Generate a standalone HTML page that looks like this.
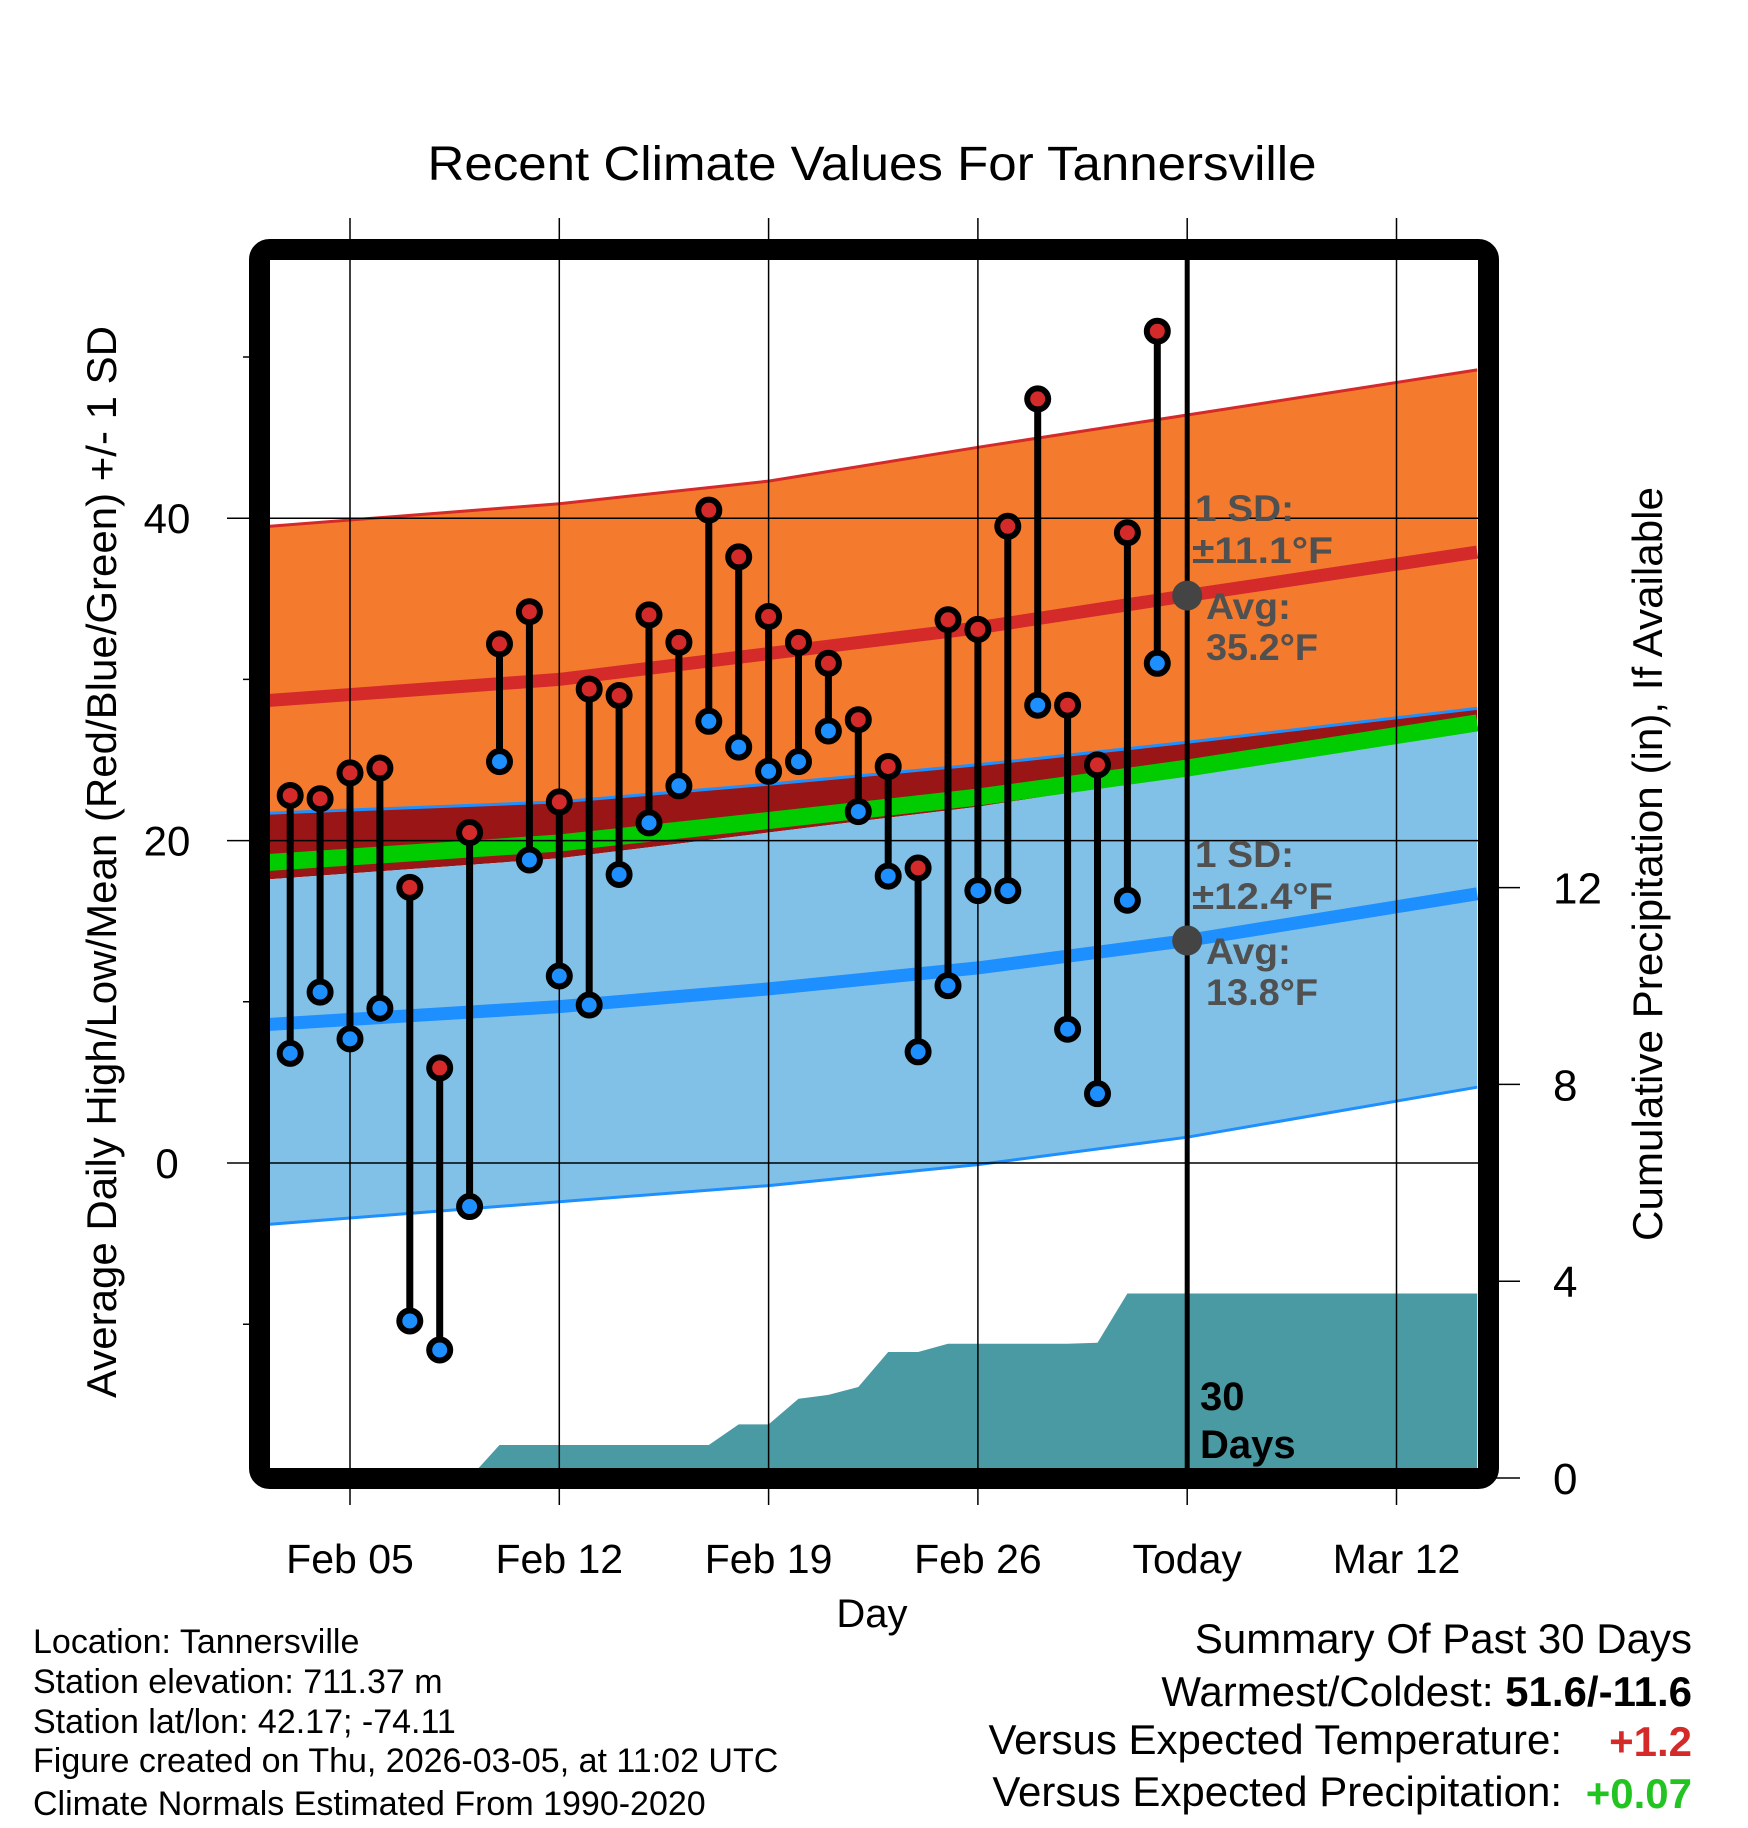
<!DOCTYPE html>
<html><head><meta charset="utf-8">
<style>
html,body{margin:0;padding:0;background:#fff;}
svg{display:block;font-family:"Liberation Sans",Arial,sans-serif;}
</style></head>
<body>
<svg id="chart" width="1748" height="1828" viewBox="0 0 1748 1828" xmlns="http://www.w3.org/2000/svg">
<defs><clipPath id="plotclip"><rect x="270" y="260" width="1208" height="1208"/></clipPath></defs>
<g id="fills" clip-path="url(#plotclip)"></g>
<g id="grid"></g>
<g id="marks"></g>
<rect x="259.5" y="249.5" width="1229" height="1229" rx="10" fill="none" stroke="#000" stroke-width="21"/>
<g id="axes"></g>
<text x="872" y="180" text-anchor="middle" font-size="48" textLength="889" lengthAdjust="spacingAndGlyphs">Recent Climate Values For Tannersville</text>
<text transform="translate(116,862) rotate(-90)" text-anchor="middle" font-size="42" textLength="1072" lengthAdjust="spacingAndGlyphs">Average Daily High/Low/Mean (Red/Blue/Green) +/- 1 SD</text>
<text transform="translate(1662,864) rotate(-90)" text-anchor="middle" font-size="42" textLength="754" lengthAdjust="spacingAndGlyphs">Cumulative Precipitation (in), If Available</text>
<text x="872" y="1627" text-anchor="middle" font-size="40">Day</text>
<g font-size="37" font-weight="bold" fill="#505050">
<text x="1195" y="521" textLength="99" lengthAdjust="spacingAndGlyphs">1 SD:</text>
<text x="1192" y="563" textLength="141" lengthAdjust="spacingAndGlyphs">±11.1°F</text>
<text x="1206" y="619" textLength="85" lengthAdjust="spacingAndGlyphs">Avg:</text>
<text x="1206" y="660" textLength="112" lengthAdjust="spacingAndGlyphs">35.2°F</text>
<text x="1195" y="867" textLength="99" lengthAdjust="spacingAndGlyphs">1 SD:</text>
<text x="1192" y="909" textLength="141" lengthAdjust="spacingAndGlyphs">±12.4°F</text>
<text x="1206" y="964" textLength="85" lengthAdjust="spacingAndGlyphs">Avg:</text>
<text x="1206" y="1005" textLength="112" lengthAdjust="spacingAndGlyphs">13.8°F</text>
</g>
<g font-size="40" font-weight="bold" fill="#000">
<text x="1200" y="1410">30</text>
<text x="1200" y="1458">Days</text>
</g>
<g font-size="34" fill="#000">
<text x="33" y="1653">Location: Tannersville</text>
<text x="33" y="1693">Station elevation: 711.37 m</text>
<text x="33" y="1733">Station lat/lon: 42.17; -74.11</text>
<text x="33" y="1772">Figure created on Thu, 2026-03-05, at 11:02 UTC</text>
<text x="33" y="1815">Climate Normals Estimated From 1990-2020</text>
</g>
<g font-size="42" fill="#000" text-anchor="end">
<text x="1692" y="1653">Summary Of Past 30 Days</text>
<text x="1692" y="1706">Warmest/Coldest: <tspan font-weight="bold">51.6/-11.6</tspan></text>
<text x="1562" y="1754">Versus Expected Temperature:</text>
<text x="1692" y="1756" fill="#d42a2a" font-weight="bold">+1.2</text>
<text x="1562" y="1806">Versus Expected Precipitation:</text>
<text x="1692" y="1808" fill="#22c422" font-weight="bold">+0.07</text>
</g>
</svg>
<script>
// Data (day offsets relative to Feb 05)
const dayOffsets = [-2,-1,0,1,2,3,4,5,6,7,8,9,10,11,12,13,14,15,16,17,18,19,20,21,22,23,24,25,26,27];
const highs = [22.8,22.6,24.2,24.5,17.1,5.9,20.5,32.2,34.2,22.4,29.4,29.0,34.0,32.3,40.5,37.6,33.9,32.3,31.0,27.5,24.6,18.3,33.7,33.1,39.5,47.4,28.4,24.7,39.1,51.6];
const lows = [6.8,10.6,7.7,9.6,-9.8,-11.6,-2.7,24.9,18.8,11.6,9.8,17.9,21.1,23.4,27.4,25.8,24.3,24.9,26.8,21.8,17.8,6.9,11.0,16.9,16.9,28.4,8.3,4.3,16.3,31.0];
const precipCum = [0,0,0,0,0,0,0,0.67,0.67,0.67,0.67,0.67,0.67,0.67,0.67,1.09,1.09,1.61,1.69,1.85,2.56,2.56,2.73,2.73,2.73,2.73,2.73,2.75,3.75,3.75];
const normDays = [-2.7,7,14,21,28,37.7];
const normHighPlus = [39.5,40.9,42.3,44.4,46.4,49.2];
const normHigh = [28.7,30.0,31.6,33.2,35.2,37.9];
const normLowPlus = [21.7,22.4,23.5,24.7,26.1,28.2];
const normMean = [18.65,19.85,21.25,22.7,24.5,27.3];
const normHighMinus = [17.6,18.9,20.5,22.1,24.1,26.8];
const normLow = [8.6,9.7,10.8,12.1,13.8,16.7];
const normLowMinus = [-3.8,-2.4,-1.4,-0.1,1.6,4.7];
const xTickDays = [0,7,14,21,28,35];
const xTickLabels = ["Feb 05","Feb 12","Feb 19","Feb 26","Today","Mar 12"];
const yMajor = [40,20,0];
const yMinor = [50,30,10,-10];
const pTicks = [0,4,8,12];
const todayOffset = 28;
const todayHigh = 35.2, todayLow = 13.8;

const NS = "http://www.w3.org/2000/svg";
function x(d){ return 350 + d*29.9; }
function y(t){ return 1163 - t*16.12; }
function yP(p){ return 1478 - p*49.2; }
function mk(tag, attrs, parent){
  const e = document.createElementNS(NS, tag);
  for (const k in attrs) e.setAttribute(k, attrs[k]);
  parent.appendChild(e); return e;
}
function pts(days, vals){ return days.map((d,i)=>x(d).toFixed(1)+","+y(vals[i]).toFixed(1)); }
function band(top, bot){ return pts(normDays, top).concat(pts(normDays, bot).reverse()).join(" "); }

const fills = document.getElementById("fills");
const grid = document.getElementById("grid");
const marks = document.getElementById("marks");
const axes = document.getElementById("axes");

let e;
e = mk("polygon",{points:band(normHighPlus,normLowPlus),fill:"#f47a2e"},fills);


e = mk("polygon",{points:band(normLowPlus,normHighMinus),fill:"#9a1515"},fills);


e = mk("polygon",{points:band(normHighMinus,normLowMinus),fill:"#82c1e7"},fills);


e = mk("polyline",{points:pts(normDays,normHighPlus).join(" "),fill:"none",stroke:"#d42a2a","stroke-width":3},fills);


e = mk("polyline",{points:pts(normDays,normLowPlus).join(" "),fill:"none",stroke:"#1e8fff","stroke-width":3},fills);


e = mk("polyline",{points:pts(normDays,normLowMinus).join(" "),fill:"none",stroke:"#1e8fff","stroke-width":3},fills);


e = mk("polyline",{points:pts(normDays,normMean).join(" "),fill:"none",stroke:"#00cc00","stroke-width":17},fills);


e = mk("polyline",{points:pts(normDays,normHigh).join(" "),fill:"none",stroke:"#d42a2a","stroke-width":13},fills);


e = mk("polyline",{points:pts(normDays,normLow).join(" "),fill:"none",stroke:"#1e8fff","stroke-width":13},fills);



// precipitation area
const pp = [x(normDays[0]).toFixed(1)+","+yP(0)];
dayOffsets.forEach((d,i)=>pp.push(x(d).toFixed(1)+","+yP(precipCum[i]).toFixed(1)));
const lastD = normDays[normDays.length-1];
pp.push(x(lastD).toFixed(1)+","+yP(precipCum[precipCum.length-1]).toFixed(1));
pp.push(x(lastD).toFixed(1)+","+yP(0));
e = mk("polygon",{points:pp.join(" "),fill:"#4a9aa3"},fills);



// grid
xTickDays.forEach((d,i)=>{
  const g = mk("line",{x1:x(d),x2:x(d),y1:218,y2:1505,stroke:"#000","stroke-width":1.5},grid);
  
  
  const t = mk("text",{x:x(d),y:1573,"text-anchor":"middle","font-size":41},axes);
  t.textContent = xTickLabels[i];
  
  
});
yMajor.forEach(v=>{
  const g = mk("line",{x1:227,x2:1478,y1:y(v),y2:y(v),stroke:"#000","stroke-width":1.5},grid);
  
  
  const t = mk("text",{x:167,y:y(v)+15,"text-anchor":"middle","font-size":42},axes);
  t.textContent = String(v);
  
  
});
yMinor.forEach(v=>{
  const g = mk("line",{x1:243,x2:262,y1:y(v),y2:y(v),stroke:"#000","stroke-width":1.5},axes);
  
  
});
pTicks.forEach(v=>{
  const g = mk("line",{x1:1490,x2:1520,y1:yP(v),y2:yP(v),stroke:"#000","stroke-width":1.5},axes);
  
  
  const t = mk("text",{x:1553,y:yP(v)+16,"text-anchor":"start","font-size":44},axes);
  t.textContent = String(v);
  
  
});

// today line
e = mk("line",{x1:x(todayOffset),x2:x(todayOffset),y1:260,y2:1468,stroke:"#000","stroke-width":5},grid);



// daily stems & markers
dayOffsets.forEach((d,i)=>{
  const s = mk("line",{x1:x(d),x2:x(d),y1:y(highs[i]),y2:y(lows[i]),stroke:"#000","stroke-width":7},marks);
  
  
});
dayOffsets.forEach((d,i)=>{
  const h = mk("circle",{cx:x(d),cy:y(highs[i]),r:10.5,fill:"#d42a2a",stroke:"#000","stroke-width":6},marks);
  
  
  const l = mk("circle",{cx:x(d),cy:y(lows[i]),r:10.5,fill:"#1e8fff",stroke:"#000","stroke-width":6},marks);
  
  
});
e = mk("circle",{cx:x(todayOffset),cy:y(todayHigh),r:15,fill:"#444"},marks);


e = mk("circle",{cx:x(todayOffset),cy:y(todayLow),r:15,fill:"#444"},marks);


</script>
</body></html>
